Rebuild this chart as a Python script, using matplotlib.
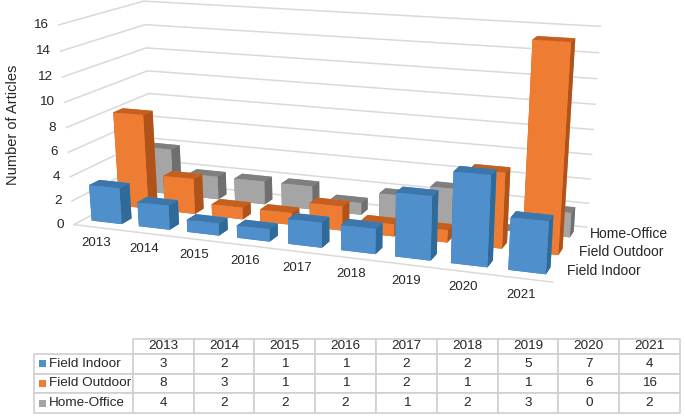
import matplotlib
matplotlib.use("Agg")
import matplotlib.pyplot as plt
from matplotlib.patches import Rectangle
from mpl_toolkits.mplot3d import proj3d

plt.rcParams['font.family'] = ['Liberation Sans', 'DejaVu Sans']

years = [2013, 2014, 2015, 2016, 2017, 2018, 2019, 2020, 2021]
series = ["Field Indoor", "Field Outdoor", "Home-Office"]
field_indoor = [3, 2, 1, 1, 2, 2, 5, 7, 4]
field_outdoor = [8, 3, 1, 1, 2, 1, 1, 6, 16]
home_office = [4, 2, 2, 2, 1, 2, 3, 0, 2]
values = [field_indoor, field_outdoor, home_office]
z_ticks = list(range(0, 17, 2))

front = ["#4f90cc", "#ee7d33", "#a5a5a5"]
top = ["#3c76ab", "#c4601f", "#7f7f7f"]
side = ["#2f6a99", "#b0531a", "#6f6f6f"]
grid = "#d9d9d9"
text_c = "#262626"

fig = plt.figure(figsize=(6.85, 4.16), dpi=100)
S = 724
ax = fig.add_axes([-22 / 685, -237 / 416, S / 685, S / 416], projection="3d",
                  computed_zorder=False)
ax.set_proj_type("persp", focal_length=0.33)
ax.view_init(elev=20.3, azim=-70)
ax.set_box_aspect((519, 165, 502), zoom=1.0)
x0, x1, y0, y1 = -0.5, 8.5, -0.5, 2.5
ax.set_xlim(x0, 9.296); ax.set_ylim(y0, y1); ax.set_zlim(-25.05, 16)
ax.set_axis_off()
M = ax.get_proj()


def label(s, x, y, z, dx, dy, **kw):
    px, py, _ = proj3d.proj_transform(x, y, z, M)
    ax.annotate(s, xy=(px, py), xycoords="data", xytext=(dx, dy),
                textcoords="offset pixels", color=text_c, annotation_clip=False, **kw)


# gridlines on the back and left walls, and the floor edges
for z in z_ticks:
    ax.plot([x0, x0], [y0, y1], [z, z], color=grid, lw=1.1, zorder=1)
    ax.plot([x0, x1], [y1, y1], [z, z], color=grid, lw=1.1, zorder=1)
    label(str(z), x0, y0, z, -10, 0, ha="right", va="center", fontsize=9.7)
ax.plot([x0, x1], [y0, y0], [0, 0], color=grid, lw=1.1, zorder=1)

w, d = 0.64, 0.36
zo = 10
for r in (2, 1, 0):
    for i, v in enumerate(values[r]):
        cols = [top[r], top[r], front[r], front[r], side[r], side[r]]
        ax.bar3d(i - w / 2, r - d / 2, 0, w, d, v, color=cols, shade=False,
                 linewidth=0, zorder=zo)
        zo += 1

for i, yr in enumerate(years):
    label(str(yr), i, y0, 0, -1, -16, ha="center", va="center", fontsize=9.5)
for r, name in enumerate(series):
    label(name, x1, r, 0, 8, 1, ha="left", va="center", fontsize=10)

fig.text(13 / 685, 1 - 125 / 416, "Number of Articles", rotation=90, ha="center",
         va="center", fontsize=10.5, color=text_c)

# data table
L, R, T, B = 34, 680, 339, 413
tab = fig.add_axes([L / 685, 1 - B / 416, (R - L) / 685, (B - T) / 416])
tab.set_axis_off()
tab.set_xlim(L, R); tab.set_ylim(B, T)
rows = [[""] + [str(y) for y in years]]
for name, vals in zip(series, values):
    rows.append([name] + [str(v) for v in vals])
tb = tab.table(cellText=rows, cellLoc="center", bbox=[0, 0, 1, 1])
tb.auto_set_font_size(False)
tb.set_fontsize(9.7)
for (r, c), cell in tb.get_celld().items():
    cell.set_edgecolor("#cfcfcf")
    cell.set_linewidth(1.2)
    cell.get_text().set_color(text_c)
    cell.set_height(15 if r == 0 else 19.7)
    cell.set_width(99 if c == 0 else 60.9)
    if c == 0:
        cell.get_text().set_ha("left")
        cell._loc = "left"
        cell.PAD = 0.15
        if r == 0:
            cell.visible_edges = ""
row_mid = [364, 384, 403.5]
for yc, col in zip(row_mid, front):
    tab.add_patch(Rectangle((39, yc - 3.5), 7, 7, color=col, lw=0, zorder=5))

fig.savefig("out.png", dpi=100)
